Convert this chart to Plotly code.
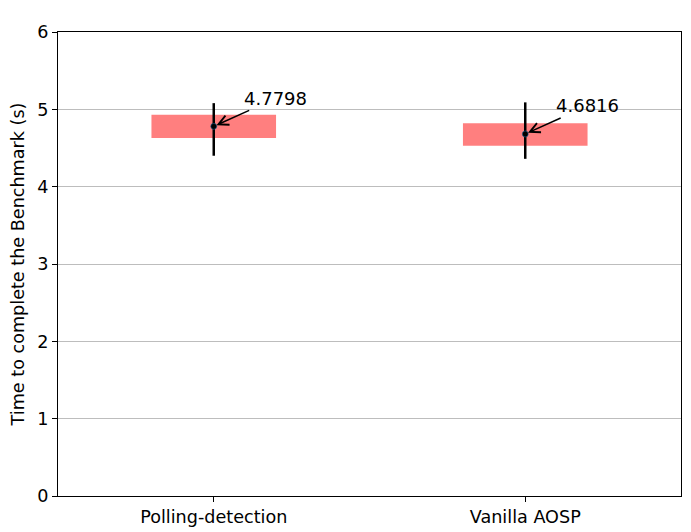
import plotly.graph_objects as go

categories = ["Polling-detection", "Vanilla AOSP"]
means = [4.7798, 4.6816]
box_low = [4.63, 4.53]
box_high = [4.93, 4.82]
err_low = [4.40, 4.36]
err_high = [5.08, 5.09]
labels = ["4.7798", "4.6816"]

xpos = [0, 1]

fig = go.Figure()
fig.add_trace(go.Bar(
    x=xpos, base=box_low, y=[h - l for h, l in zip(box_high, box_low)],
    width=0.4, marker=dict(color="rgba(255,0,0,0.5)", line=dict(width=0)),
    showlegend=False, hoverinfo="skip"))
fig.add_trace(go.Scatter(
    x=xpos, y=means, mode="markers",
    marker=dict(color="black", size=6, line=dict(color="#1f77b4", width=0.5)),
    error_y=dict(type="data", symmetric=False,
                 array=[h - m for h, m in zip(err_high, means)],
                 arrayminus=[m - l for m, l in zip(means, err_low)],
                 color="black", thickness=2.5, width=0),
    showlegend=False))

for x, m, t in zip(xpos, means, labels):
    fig.add_annotation(x=x, y=m, text=t, showarrow=True, ax=62, ay=-28,
                       arrowhead=5, arrowsize=1.3, arrowwidth=1.5, arrowcolor="black",
                       standoff=3, font=dict(size=18, color="black"))

fig.update_layout(
    width=683, height=524,
    margin=dict(l=50, r=10, t=24, b=36),
    plot_bgcolor="white", paper_bgcolor="white",
    font=dict(family="DejaVu Sans", size=17.6, color="black"),
    xaxis=dict(range=[-0.5, 1.5], tickvals=xpos, ticktext=categories,
               showgrid=False, zeroline=False, showline=True, linecolor="black",
               linewidth=1.2, mirror=True, ticks="outside", ticklen=5,
               tickcolor="black", tickfont=dict(size=17.6), automargin=False),
    yaxis=dict(range=[0, 6], tickvals=[0, 1, 2, 3, 4, 5, 6],
               showgrid=True, gridcolor="#bdbdbd", gridwidth=1, zeroline=False,
               showline=True, linecolor="black", linewidth=1.2, mirror=True,
               ticks="outside", ticklen=5, tickcolor="black",
               tickfont=dict(size=17.6), automargin=False,
               title=dict(text="Time to complete the Benchmark (s)", font=dict(size=17.6), standoff=8)),
)

fig.write_html("out.html")
